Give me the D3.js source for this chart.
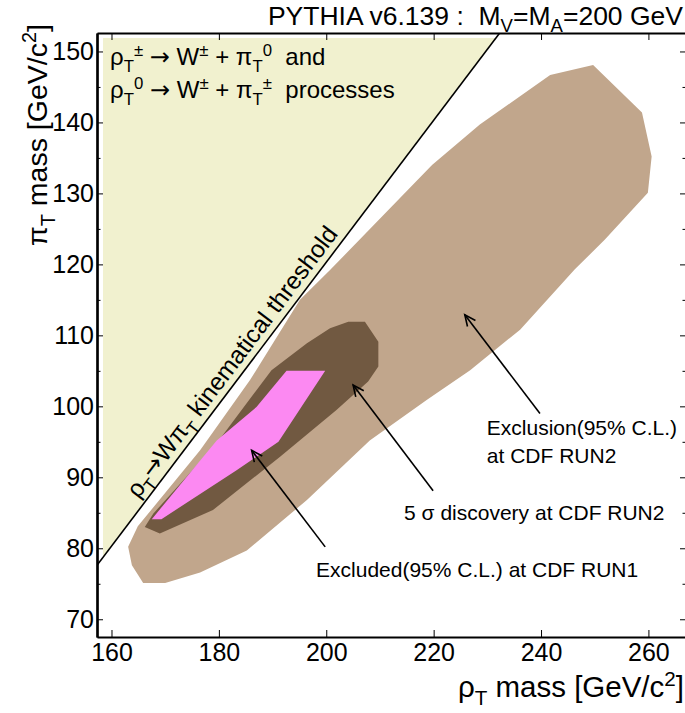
<!DOCTYPE html>
<html><head><meta charset="utf-8">
<script src="https://cdn.jsdelivr.net/npm/d3@7"></script>
<style>
body{margin:0;background:#fff}
svg{display:block}
text{font-family:"Liberation Sans",Arial,Helvetica,sans-serif;fill:#000;white-space:pre}
</style>
</head><body>
<svg id="c" width="685" height="713"></svg>
<script>
// ---- axis setup ----
const xDomain = [157.3, 267.0];
const yDomain = [67.5, 152.6];
const xTicks = [160, 180, 200, 220, 240, 260];
const yTicks = [70, 80, 90, 100, 110, 120, 130, 140, 150];
const yMinorTicks = [75, 85, 95, 105, 115, 125, 135, 145];
const mW = 79.7; // threshold: m(pi_T) = m(rho_T) - mW

// ---- contour regions [m(rho_T), m(pi_T)] ----
const exclRun2 = [
  [249.7,148.1],[258.8,141.4],[260.6,135.2],[259.9,130.1],[251.9,123.5],[246.3,119.3],
  [236.1,110.8],[226.8,105.1],[218.7,100.9],[208.1,95.2],[196.4,86.8],[185.2,79.7],
  [176.5,76.6],[170.0,75.1],[165.9,75.1],[163.8,77.6],[163.1,80.2],[164.9,83.1],
  [176.5,93.8],[185.8,103.7],[195.1,115.0],[200.7,119.2],[219.7,134.0],[228.6,139.7],[241.7,146.7]
];
const disc5sigma = [
  [166.2,83.0],[169.0,82.1],[178.9,85.4],[191.4,92.9],[201.9,99.5],[207.8,103.5],
  [209.7,105.6],[209.7,109.1],[207.2,111.9],[204.1,111.9],[200.7,111.0],[196.4,108.9],
  [189.8,105.1],[179.6,94.8],[167.8,84.9]
];
const exclRun1 = [
  [192.6,105.0],[199.8,105.0],[191.1,95.0],[183.3,91.0],[169.3,84.1],[167.5,84.1],
  [179.6,95.2],[187.0,99.9]
];

// ---- annotations: [tail rho, tail pi, head rho, head pi] and text anchors ----
const arrowExcl2 = [239.8, 99.0, 225.8, 112.9];
const arrowDisc  = [219.9, 88.1, 205.0, 103.0];
const arrowExcl1 = [199.8, 80.2, 186.1, 93.8];
const labelExcl2 = [229.9, 96.0];
const labelExcl2b = [229.9, 92.0];
const labelDisc = [214.5, 84.0];
const labelExcl1 = [198.1, 76.0];

const colors = {allowed:"#f1f1cf", excl2:"#c1a68c", disc:"#715941", excl1:"#fc89f2"};

const W = 685, H = 713;
const L = 97, R = 686, T = 33, B = 637;
const svg = d3.select("#c");
const x = d3.scaleLinear().domain(xDomain).range([L, R]);
const y = d3.scaleLinear().domain(yDomain).range([B, T]);

svg.append("defs").append("clipPath").attr("id","clip")
  .append("rect").attr("x",L).attr("y",T).attr("width",R-L).attr("height",B-T);

// rich text helper
function rich(sel, parts, size){
  let shift = 0;
  parts.forEach(p=>{
    const target = p.sub ? size*0.28 : (p.sup ? -size*0.38 : 0);
    const ts = sel.append("tspan").text(p.t)
      .attr("font-size", (p.sub||p.sup) ? size*0.7 : size)
      .attr("dy", target - shift);
    if (p.sym) ts.attr("font-family","DejaVu Sans");
    shift = target;
  });
  return sel;
}

// allowed region (above threshold), slightly inset from frame
const rho0 = x.invert(L+6), pi1 = y.invert(T+5);
const allowed = [[rho0, rho0 - mW],[rho0, pi1],[pi1 + mW, pi1]];
const line = d3.line().x(d=>x(d[0])).y(d=>y(d[1]));
const g = svg.append("g").attr("clip-path","url(#clip)");
g.append("path").attr("d", line(allowed)+"Z").attr("fill", colors.allowed);

[[exclRun2,colors.excl2],[disc5sigma,colors.disc],[exclRun1,colors.excl1]].forEach(([pts,c])=>{
  g.append("path").attr("d", line(pts)+"Z").attr("fill", c);
});

// threshold line
const thr = [[xDomain[0], xDomain[0]-mW],[yDomain[1]+mW, yDomain[1]]];
g.append("path").attr("d", line(thr)).attr("stroke","#000").attr("stroke-width",1.6).attr("fill","none");

// threshold label
{
  const p0 = [x(166.0), y(166.0-mW)];
  const ang = Math.atan2(y(yDomain[1]) - y(xDomain[0]-mW), x(yDomain[1]+mW) - x(xDomain[0]));
  const nx = Math.sin(ang), ny = -Math.cos(ang);
  const off = 7;
  const px = p0[0] + nx*off, py = p0[1] + ny*off;
  const t = svg.append("text").attr("transform",`translate(${px},${py}) rotate(${ang*180/Math.PI})`);
  rich(t, [{t:"ρ"},{t:"T",sub:1},{t:"→",sym:1},{t:"W"},{t:"π"},{t:"T",sub:1},{t:" kinematical threshold"}], 24.5);
}

// arrows
const defs = svg.select("defs");
defs.append("marker").attr("id","ah").attr("markerUnits","userSpaceOnUse")
  .attr("markerWidth",20).attr("markerHeight",20).attr("refX",0).attr("refY",0)
  .attr("viewBox","-12 -10 14 20").attr("orient","auto")
  .append("path").attr("d","M-11,-5 L0,0 L-11,5").attr("fill","none").attr("stroke","#000").attr("stroke-width",1.6);
[arrowExcl2, arrowDisc, arrowExcl1].forEach(a=>{
  svg.append("line").attr("x1",x(a[0])).attr("y1",y(a[1])).attr("x2",x(a[2])).attr("y2",y(a[3]))
    .attr("stroke","#000").attr("stroke-width",1.6).attr("marker-end","url(#ah)");
});

// annotation text
const annSize = 21;
[[labelExcl2,"Exclusion(95% C.L.)"],[labelExcl2b,"at CDF RUN2"],[labelDisc,"5 σ discovery at CDF RUN2"],[labelExcl1,"Excluded(95% C.L.) at CDF RUN1"]]
 .forEach(([p,s])=>{
  svg.append("text").attr("x",x(p[0])).attr("y",y(p[1])).attr("font-size",annSize).text(s);
 });

// legend text
const legSize = 24;
rich(svg.append("text").attr("x",L+13).attr("y",T+32),
  [{t:"ρ"},{t:"T",sub:1},{t:"±",sup:1},{t:" "},{t:"→",sym:1},{t:" W"},{t:"±",sup:1},{t:" + π"},{t:"T",sub:1},{t:"0",sup:1},{t:"  and"}], legSize);
rich(svg.append("text").attr("x",L+13).attr("y",T+65),
  [{t:"ρ"},{t:"T",sub:1},{t:"0",sup:1},{t:" "},{t:"→",sym:1},{t:" W"},{t:"±",sup:1},{t:" + π"},{t:"T",sub:1},{t:"±",sup:1},{t:"  processes"}], legSize);

// axes
const axG = svg.append("g");
axG.append("g").attr("transform",`translate(0,${B})`)
  .call(d3.axisBottom(x).tickValues(xTicks).tickSizeInner(-7).tickSizeOuter(0).tickPadding(6).tickFormat(d3.format("d")));
axG.append("g").attr("transform",`translate(0,${T})`)
  .call(d3.axisTop(x).tickValues(xTicks).tickSizeInner(-7).tickSizeOuter(0).tickFormat(""));
axG.append("g").attr("transform",`translate(${L},0)`)
  .call(d3.axisLeft(y).tickValues(yTicks).tickSizeInner(-6).tickSizeOuter(0).tickPadding(3).tickFormat(d3.format("d")));
axG.append("g").attr("transform",`translate(${L},0)`)
  .call(d3.axisLeft(y).tickValues(yMinorTicks).tickSizeInner(-3.5).tickSizeOuter(0).tickFormat(""));
const yr = axG.append("g").attr("transform",`translate(${R},0)`)
  .call(d3.axisRight(y).tickValues(yTicks).tickSizeInner(-6).tickSizeOuter(0).tickFormat(""));
const yrm = axG.append("g").attr("transform",`translate(${R},0)`)
  .call(d3.axisRight(y).tickValues(yMinorTicks).tickSizeInner(-3.5).tickSizeOuter(0).tickFormat(""));
axG.selectAll(".domain").attr("stroke","#000").attr("stroke-width",2.2);
axG.selectAll(".tick line").attr("stroke","#000").attr("stroke-width",1);
axG.selectAll(".tick text").attr("font-size",25).attr("font-family","Liberation Sans, Arial, sans-serif").attr("fill","#000");
yr.select(".domain").remove(); yrm.select(".domain").remove();

// axis titles
rich(svg.append("text").attr("x",684).attr("y",697).attr("text-anchor","end"),
  [{t:"ρ"},{t:"T",sub:1},{t:" mass [GeV/c"},{t:"2",sup:1},{t:"]"}], 29.5);
rich(svg.append("text").attr("transform","translate(47,24) rotate(-90)").attr("text-anchor","end"),
  [{t:"π"},{t:"T",sub:1},{t:" mass [GeV/c"},{t:"2",sup:1},{t:"]"}], 28.5);

// title
rich(svg.append("text").attr("x",683).attr("y",25).attr("text-anchor","end"),
  [{t:"PYTHIA v6.139 :  M"},{t:"V",sub:1},{t:"=M"},{t:"A",sub:1},{t:"=200 GeV"}], 26.5);
</script>
</body></html>
